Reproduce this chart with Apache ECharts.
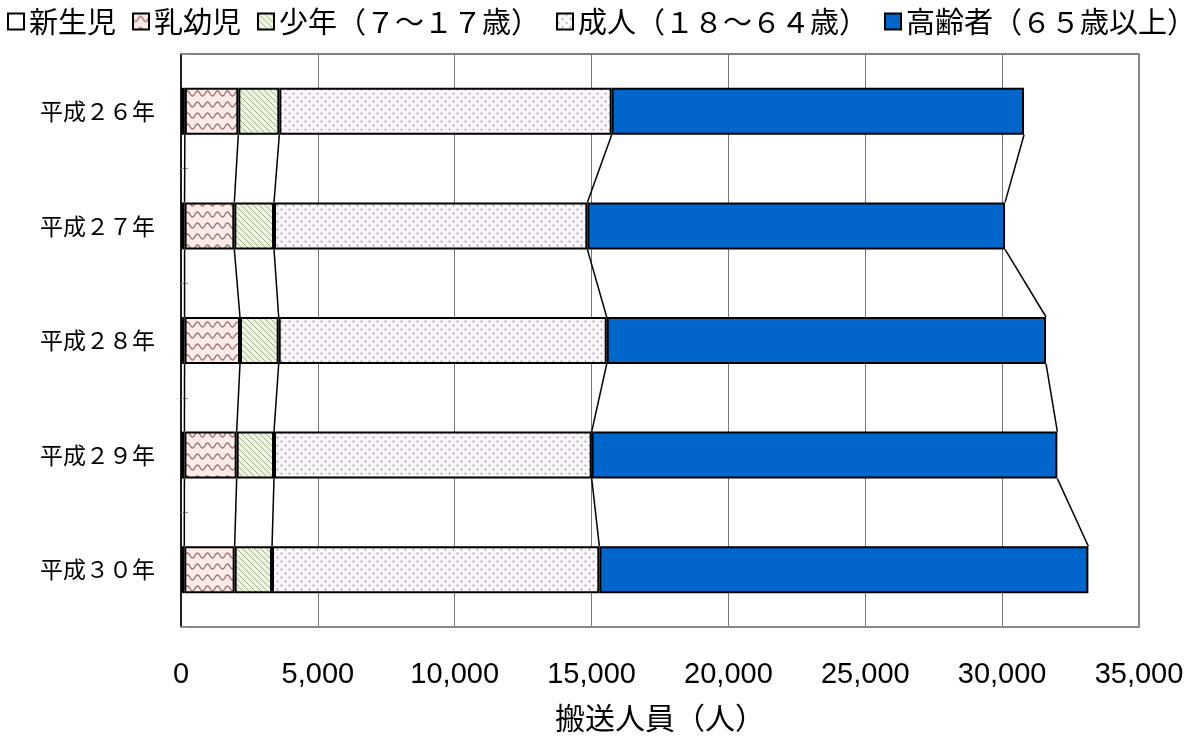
<!DOCTYPE html>
<html>
<head>
<meta charset="utf-8">
<script src="https://cdn.jsdelivr.net/npm/echarts@6/dist/echarts.min.js"></script>
<style>html,body{margin:0;padding:0;background:#fff;}#c{width:1190px;height:737px;}</style>
</head>
<body>
<div id="c"></div>
<script>
// ---- data ----
const years = ['平成２６年', '平成２７年', '平成２８年', '平成２９年', '平成３０年'];
const seriesNames = ['新生児', '乳幼児', '少年（７～１７歳）', '成人（１８～６４歳）', '高齢者（６５歳以上）'];
const newborn = [140, 130, 130, 125, 120];
const infant = [1954, 1818, 2025, 1909, 1840];
const youth = [1498, 1450, 1414, 1364, 1365];
const adult = [12144, 11448, 11984, 11607, 11959];
const elderly = [15064, 15260, 16051, 17012, 17866];
const xTicks = [0, 5000, 10000, 15000, 20000, 25000, 30000, 35000];

// ---- patterns ----
function makePattern(w, h, draw) {
  const c = document.createElement('canvas');
  c.width = w; c.height = h;
  const ctx = c.getContext('2d');
  draw(ctx, w, h);
  return { image: c, repeat: 'repeat' };
}
const wavePat = makePattern(10, 11, (ctx, w, h) => {
  ctx.fillStyle = '#fcebe8'; ctx.fillRect(0, 0, w, h);
  ctx.strokeStyle = '#9a7070'; ctx.lineWidth = 1.3;
  ctx.beginPath();
  for (let x = -1; x <= w + 1; x += 0.5) {
    const y = 5.5 + 2.5 * Math.sin(x / w * Math.PI * 2);
    if (x === -1) ctx.moveTo(x, y); else ctx.lineTo(x, y);
  }
  ctx.stroke();
});
const diagPat = makePattern(6, 6, (ctx, w, h) => {
  ctx.fillStyle = '#eff6de'; ctx.fillRect(0, 0, w, h);
  ctx.strokeStyle = '#a3ae96'; ctx.lineWidth = 1;
  ctx.beginPath();
  ctx.moveTo(-1, -1); ctx.lineTo(w + 1, h + 1);
  ctx.moveTo(-1, h - 1); ctx.lineTo(1, h + 1);
  ctx.moveTo(w - 1, -1); ctx.lineTo(w + 1, 1);
  ctx.stroke();
});
const dotPat = makePattern(8, 8, (ctx, w, h) => {
  ctx.fillStyle = '#fbf6fb'; ctx.fillRect(0, 0, w, h);
  ctx.fillStyle = '#999';
  ctx.beginPath(); ctx.arc(1.5, 1.5, 0.9, 0, Math.PI * 2); ctx.fill();
  ctx.beginPath(); ctx.arc(5.5, 5.5, 0.9, 0, Math.PI * 2); ctx.fill();
});

const values = [newborn, infant, youth, adult, elderly];
const fills = ['#ffffff', wavePat, diagPat, dotPat, '#0066cc'];

// cumulative boundaries
const cum = values.map((_, k) => years.map((_, j) => {
  let s = 0; for (let m = 0; m <= k; m++) s += values[m][j]; return s;
}));
const linkData = [];
for (let k = 0; k < cum.length; k++) for (let j = 0; j < years.length - 1; j++) linkData.push([k, j]);

const BAR_RATIO = 0.41;
const barSeries = seriesNames.map((name, i) => ({
  name: name,
  type: 'bar',
  stack: 'total',
  barWidth: (BAR_RATIO * 100) + '%',
  data: values[i],
  itemStyle: { color: fills[i], borderColor: '#000', borderWidth: 2 },
  emphasis: { disabled: true },
  animation: false
}));

const linkSeries = {
  type: 'custom',
  data: linkData,
  silent: true,
  animation: false,
  clip: false,
  z: 1,
  renderItem: function (params, api) {
    const k = api.value(0), j = api.value(1);
    const band = api.size([0, 1])[1];
    const h = band * BAR_RATIO / 2;
    const p1 = api.coord([cum[k][j], j]);
    const p2 = api.coord([cum[k][j + 1], j + 1]);
    return {
      type: 'line',
      shape: { x1: p1[0], y1: p1[1] + h, x2: p2[0], y2: p2[1] - h },
      style: { stroke: '#000', lineWidth: 1.5 }
    };
  }
};

const chart = echarts.init(document.getElementById('c'), null, { renderer: 'canvas' });
chart.setOption({
  backgroundColor: '#fff',
  animation: false,
  textStyle: { fontFamily: '"Noto Sans CJK JP", sans-serif' },
  legend: {
    data: seriesNames,
    top: 7,
    left: 7,
    width: 3000,
    padding: 0,
    icon: 'rect',
    itemWidth: 16,
    itemHeight: 16,
    itemGap: 16,
    textStyle: { fontSize: 29, color: '#000', fontFamily: '"Noto Sans CJK JP"' },
    itemStyle: { borderColor: '#000', borderWidth: 2 }
  },
  grid: { left: 181, right: 51, top: 54, bottom: 110, show: true, borderColor: '#000', borderWidth: 1, outerBoundsMode: 'none', containLabel: false },
  xAxis: {
    type: 'value',
    min: 0, max: 35000, interval: 5000,
    name: '搬送人員（人）',
    nameLocation: 'middle',
    nameGap: 76,
    nameTextStyle: { fontSize: 30, color: '#000', fontFamily: '"Noto Sans CJK JP"' },
    axisLine: { show: true, lineStyle: { color: '#888', width: 2 } },
    axisTick: { show: false },
    splitLine: { show: true, lineStyle: { color: '#777', width: 1 } },
    axisLabel: {
      fontSize: 29, color: '#000', margin: 33, fontFamily: '"Liberation Sans"',
      formatter: v => xTicks.includes(v) ? v.toLocaleString('en-US') : ''
    }
  },
  yAxis: [{
    type: 'category',
    inverse: true,
    data: years,
    axisLine: { show: true, lineStyle: { color: '#000', width: 1.5 } },
    axisTick: { show: true, inside: true, length: 7, lineStyle: { color: '#999' } },
    axisLabel: { fontSize: 23, color: '#000', margin: 26, fontFamily: '"Noto Sans CJK JP"' },
    splitLine: { show: false }
  }, {
    type: 'category',
    inverse: true,
    position: 'right',
    data: years,
    axisLine: { show: true, lineStyle: { color: '#888', width: 2 } },
    axisTick: { show: false },
    axisLabel: { show: false }
  }],
  series: barSeries.concat([linkSeries])
});
</script>
</body>
</html>
